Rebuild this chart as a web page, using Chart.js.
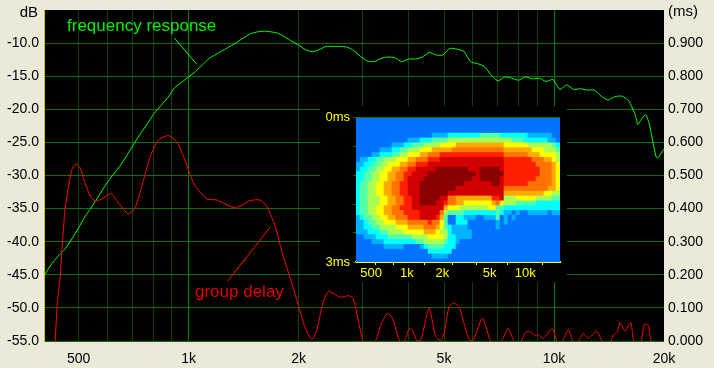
<!DOCTYPE html>
<html>
<head>
<meta charset="utf-8">
<title>frequency response / group delay</title>
<script src="https://cdn.jsdelivr.net/npm/chart.js@4"></script>
<style>
  html, body { margin: 0; padding: 0; background: #ECE9D8; }
  #wrap { position: relative; width: 714px; height: 368px; overflow: hidden; }
  #mainChart { position: absolute; left: 0; top: 0; }
  #heatChart { position: absolute; left: 320px; top: 106px; }
</style>
</head>
<body>
<div id="wrap">
  <canvas id="mainChart" width="714" height="368"></canvas>
  <canvas id="heatChart" width="247" height="176"></canvas>
</div>
<script>
// frequency response, Hz and dB
const responseFreqs = [403,420,439,459,479,
  500,522,545,569,595,621,648,677,707,738,771,805,841,878,917,958,
  1000,1044,1091,1139,1189,1242,1297,1354,1414,1477,1542,1611,1682,1756,1834,1915,
  2000,2089,2181,2278,2378,2484,2594,2709,2828,2954,3084,3221,3364,3513,3668,3830,
  4000,4177,4362,4555,4757,4967,5187,5417,5657,5907,6169,6442,6727,7025,7336,7661,
  8000,8354,8724,9110,9514,9935,10375,10834,11314,11815,12338,12884,13454,14050,14672,15322,
  16000,16708,16960,17448,17829,18221,19027,19277,19870,20000];
const responseDb = [-45.1,-43.5,-42.2,-41.1,-39.6,
  -37.9,-36.1,-34.6,-33.0,-31.3,-29.9,-28.6,-27.0,-25.3,-23.7,-22.2,-20.6,-19.4,-18.2,-16.7,-15.9,
  -15.1,-14.3,-13.3,-12.3,-11.7,-11.1,-10.5,-9.9,-9.2,-8.6,-8.3,-8.2,-8.3,-8.5,-9.1,-9.7,
  -10.3,-11.0,-11.3,-11.0,-10.5,-10.5,-10.5,-10.6,-11.1,-12.0,-12.7,-12.8,-12.3,-12.1,-12.2,-12.8,
  -12.4,-12.4,-12.1,-11.4,-11.8,-11.8,-10.8,-10.9,-11.2,-12.8,-13.1,-13.5,-14.8,-15.7,-15.1,-15.3,
  -15.6,-15.1,-15.4,-15.3,-15.8,-15.5,-17.0,-16.3,-17.0,-16.9,-17.1,-17.1,-18.0,-18.6,-18.1,-18.0,
  -18.7,-20.9,-22.3,-21.3,-20.8,-22.2,-27.2,-27.3,-26.2,-26.0];

// group delay, Hz and ms (below zero the curve runs off the plot)
const delayFreqs = [431,437,445,450,459,471,479,492,505,521,538,555,579,613,636,684,714,745,785,827,880,928,969,
  1031,1075,1122,1195,1341,1473,1569,1637,1724,1818,1896,1997,2084,2173,2243,2315,2413,2598,2738,2824,2946,3008,
  3138,3274,3342,3499,3612,3769,3852,3932,4014,4098,4210,4318,4553,4744,4901,5002,5163,5305,5499,5736,5881,6017,
  6370,6685,6940,7225,7491,7743,7922,8141,8367,8638,8914,9046,9349,9901,10115,10360,10608,10950,11226,11497,
  11735,12034,12421,13098,13483,13880,14362,14540,14910,15140,15650,16220,16490,16880,17340,17650,18130,18410,18920,20000];
const delayMs = [-0.01,0.112,0.193,0.273,0.399,0.477,0.517,0.535,0.523,0.477,0.438,0.423,0.429,0.446,0.424,0.384,0.404,0.469,0.557,0.607,0.621,0.602,0.557,
  0.477,0.450,0.429,0.426,0.402,0.424,0.426,0.406,0.348,0.253,0.192,0.107,0.041,0.004,0.031,0.102,0.150,0.132,0.137,0.127,0.036,-0.002,
  -0.02,0.008,0.043,0.084,0.069,0.003,-0.01,0.008,0.038,0.033,0.001,0.003,0.099,0.013,0.001,0.023,0.104,0.115,0.104,0.033,0.001,0.003,
  0.069,0.003,-0.02,0.005,0.038,0.003,-0.01,0.001,0.027,0.027,0.015,0.020,0.008,0.038,0.008,-0.015,0.003,0.035,0.003,-0.01,
  0.003,0.023,0.008,0.030,0.003,-0.015,0.003,0.018,0.028,0.056,0.030,0.056,0.003,-0.015,0.003,0.050,0.048,0.003,-0.02,-0.02];

// leader lines from the two captions
const responseLeaderFreqs = [913,1053];
const responseLeaderDb = [-9.2,-13.2];
const delayLeaderFreqs = [1277,1678];
const delayLeaderDb = [-46.0,-37.7];

// axes
const gridFreqs = [500,600,700,800,900,1000,2000,3000,4000,5000,6000,7000,8000,9000,10000,20000];
const freqLabels = {500:'500',1000:'1k',2000:'2k',5000:'5k',10000:'10k',20000:'20k'};
const heatFreqs = [400,500,600,1000,2000,3000,5000,10000];
const heatLabels = {500:'500',1000:'1k',2000:'2k',5000:'5k',10000:'10k'};

// colours of the inset, weakest to strongest
const heatColors = ['#0073ff','#00b4ff','#00ffff','#55ffaa','#aaff55','#ffff00','#ffaa00','#ff7300','#ff2000','#d20000','#8b0000'];

// inset levels, one line per 0.1 ms: level, run length, level, run length...
const heatRuns = [
  [0,51],
  [0,51],
  [0,51],
  [0,19,1,4,2,8,3,5,2,7,1,6,0,2],
  [0,13,1,3,2,3,3,4,4,16,3,3,2,6,1,2,0,1],
  [0,9,1,3,2,2,3,3,4,4,5,4,6,12,5,6,4,6,3,1,2,1],
  [0,6,1,3,2,2,3,2,4,3,5,3,6,5,7,13,6,7,5,3,4,3,3,1],
  [0,4,1,2,2,3,3,2,4,2,5,3,6,2,7,3,8,16,7,6,6,3,5,4,4,1],
  [0,1,1,2,2,2,3,2,4,3,5,3,6,2,7,3,8,3,9,16,8,7,7,3,6,2,5,1,4,1],
  [1,2,2,2,3,2,4,2,5,3,6,2,7,2,8,3,9,19,8,8,7,4,6,1,5,1],
  [1,1,2,2,3,2,4,2,5,2,6,2,7,2,8,2,9,5,10,8,9,3,10,5,9,1,8,9,7,3,6,1,5,1],
  [2,2,3,2,4,2,5,2,6,2,7,2,8,2,9,4,10,12,9,1,10,6,8,9,7,3,6,1,5,1],
  [2,2,3,2,4,2,5,2,6,2,7,2,8,1,9,4,10,12,9,2,10,5,9,1,8,8,7,4,6,1,5,1],
  [2,1,3,2,4,2,5,2,6,2,7,2,8,2,9,3,10,11,9,7,10,2,9,1,8,6,7,6,6,1,5,1],
  [2,1,3,2,4,2,5,2,6,2,7,2,8,2,9,3,10,9,9,12,7,11,6,2,5,1],
  [2,1,3,2,4,2,5,2,6,2,7,2,8,2,9,3,10,7,9,14,6,10,5,2,4,2],
  [2,1,3,2,4,3,5,2,6,2,7,2,8,2,9,2,10,5,9,2,7,2,6,9,8,2,9,1,4,3,5,5,4,4,3,2],
  [2,1,3,2,4,3,5,2,6,2,7,2,8,2,9,2,10,4,9,2,8,1,7,2,6,2,5,7,6,1,7,1,5,1,4,3,3,5,2,6],
  [2,1,3,2,4,2,5,2,6,2,7,2,8,3,9,8,6,1,5,3,4,7,5,2,3,2,2,14],
  [2,1,3,2,4,2,5,2,6,2,7,3,8,4,9,5,7,1,4,1,3,4,2,8,3,1,2,1,1,2,0,1,1,1,0,2,1,5,0,1,1,2],
  [1,1,2,1,3,2,4,2,5,2,6,2,7,3,8,3,9,4,8,1,6,1,3,1,0,2,2,2,1,3,0,2,1,3,3,1,0,1,1,1,0,1,1,1,0,11],
  [1,2,2,1,3,2,4,2,5,3,6,3,7,5,8,1,7,2,5,1,3,1,0,2,2,3,0,7,1,1,0,1,1,1,0,13],
  [1,2,2,2,3,2,4,4,5,3,6,4,7,3,6,1,5,1,3,1,2,1,1,4,0,7,1,1,0,15],
  [1,3,2,3,3,2,4,4,5,5,6,3,5,1,4,2,2,1,1,5,0,22],
  [0,2,1,3,2,3,3,6,4,4,5,4,4,1,2,2,1,4,0,22],
  [0,4,1,3,2,8,3,2,4,5,3,1,2,2,1,1,0,25],
  [0,7,1,5,0,4,1,1,2,1,3,4,2,3,0,26],
  [0,18,2,6,0,27],
  [0,19,1,4,0,28],
  [0,51]
];

const heatRows = heatRuns.map(runs => {
  const row = [];
  for (let i = 0; i < runs.length; i += 2) {
    for (let n = 0; n < runs[i + 1]; n++) row.push(runs[i]);
  }
  return row;
});
const heatColumns = heatRows[0].map((_, i) => i);

// fixes the space an axis takes, so the plot lands where it should
function fixSize(scale, size) {
  if (scale.isHorizontal()) scale.height = size; else scale.width = size;
  scale.paddingTop = 0;
  scale.paddingBottom = 0;
  scale.paddingLeft = 0;
  scale.paddingRight = 0;
}

function pairs(xs, ys) {
  return xs.map((x, i) => ({ x: x, y: ys[i] }));
}

const mainFont = { family: '"Liberation Sans", Arial, sans-serif', size: 14 };

const blackPlot = {
  id: 'blackPlot',
  beforeDraw(chart) {
    const a = chart.chartArea;
    chart.ctx.fillStyle = '#000';
    chart.ctx.fillRect(a.left, a.top, a.right - a.left, a.bottom - a.top);
  }
};

const captions = {
  id: 'captions',
  afterDraw(chart) {
    const ctx = chart.ctx;
    ctx.save();
    ctx.textBaseline = 'middle';
    ctx.font = '15px "Liberation Sans", Arial, sans-serif';
    ctx.fillStyle = '#000';
    ctx.textAlign = 'right';
    ctx.fillText('dB', 38, 13);
    ctx.textAlign = 'left';
    ctx.fillText('(ms)', 668, 12);
    ctx.font = '17px "Liberation Sans", Arial, sans-serif';
    ctx.fillStyle = '#00f000';
    ctx.fillText('frequency response', 67, 26);
    ctx.fillStyle = '#e00000';
    ctx.fillText('group delay', 195, 292);
    ctx.restore();
  }
};

new Chart(document.getElementById('mainChart'), {
  type: 'line',
  data: {
    datasets: [
      { label: 'group delay', data: pairs(delayFreqs, delayMs), yAxisID: 'y2', borderColor: '#ff0000', borderWidth: 1, pointRadius: 0, tension: 0.2 },
      { label: 'frequency response', data: pairs(responseFreqs, responseDb), yAxisID: 'y', borderColor: '#00ff00', borderWidth: 1, pointRadius: 0, tension: 0.2 },
      { data: pairs(responseLeaderFreqs, responseLeaderDb), yAxisID: 'y', borderColor: '#00ff00', borderWidth: 1, pointRadius: 0 },
      { data: pairs(delayLeaderFreqs, delayLeaderDb), yAxisID: 'y', borderColor: '#ff0000', borderWidth: 1, pointRadius: 0 }
    ]
  },
  options: {
    responsive: false,
    animation: false,
    layout: { padding: { top: 10, left: 0, right: 0, bottom: 0 } },
    plugins: { legend: { display: false }, tooltip: { enabled: false } },
    scales: {
      x: {
        type: 'logarithmic',
        bounds: 'data',
        min: 402,
        max: 20000,
        afterBuildTicks(scale) { scale.ticks = gridFreqs.map(v => ({ value: v })); },
        afterFit(scale) { fixSize(scale, 27); },
        border: { display: false },
        grid: {
          drawTicks: false,
          color(ctx) {
            const v = ctx.tick.value;
            if (v === 20000) return 'transparent';
            return (v === 1000 || v === 10000) ? '#0a7a0a' : '#0a420a';
          }
        },
        ticks: {
          autoSkip: false,
          maxRotation: 0,
          padding: 10,
          color: '#000',
          font: mainFont,
          callback(v) { return freqLabels[v] || ''; }
        }
      },
      y: {
        position: 'left',
        min: -55,
        max: -5,
        afterFit(scale) { fixSize(scale, 44); },
        border: { display: true, color: '#c8c800', width: 1 },
        grid: {
          drawTicks: false,
          color(ctx) { return ctx.tick.value === -5 ? 'transparent' : '#0a6e0a'; }
        },
        ticks: {
          stepSize: 5,
          padding: 5,
          color: '#000',
          font: mainFont,
          callback(v) { return v === -5 ? '' : v.toFixed(1); }
        }
      },
      y2: {
        position: 'right',
        min: 0,
        max: 1,
        afterFit(scale) { fixSize(scale, 50); },
        border: { display: false },
        grid: { display: false, drawTicks: false },
        ticks: {
          stepSize: 0.1,
          padding: 4,
          color: '#000',
          font: mainFont,
          callback(v) { return v >= 0.999 ? '' : v.toFixed(3); }
        }
      }
    }
  },
  plugins: [blackPlot, captions]
});

// inset: one dataset per row of cells, each row runs a little under the next to hide seams
const heatFont = { family: '"Liberation Sans", Arial, sans-serif', size: 13 };
const heatData = heatRows.map((row, r) => ({
  data: row.map(() => [r * 0.1, (r + 1.2) * 0.1 > 3 ? 3 : (r + 1.2) * 0.1]),
  backgroundColor: row.map(level => heatColors[level]),
  borderWidth: 0,
  barPercentage: 1,
  categoryPercentage: 1,
  grouped: false,
  xAxisID: 'x',
  yAxisID: 'y'
}));

const blackBack = {
  id: 'blackBack',
  beforeDraw(chart) {
    chart.ctx.fillStyle = '#000';
    chart.ctx.fillRect(0, 0, chart.width, chart.height);
  }
};

new Chart(document.getElementById('heatChart'), {
  type: 'bar',
  data: { labels: heatColumns, datasets: heatData },
  options: {
    responsive: false,
    animation: false,
    layout: { padding: { top: 11, left: 0, right: 7, bottom: 0 } },
    plugins: { legend: { display: false }, tooltip: { enabled: false } },
    scales: {
      x: { type: 'category', display: false, offset: true },
      xf: {
        type: 'logarithmic',
        axis: 'x',
        position: 'bottom',
        bounds: 'data',
        min: 372,
        max: 19700,
        afterBuildTicks(scale) { scale.ticks = heatFreqs.map(v => ({ value: v })); },
        afterFit(scale) { fixSize(scale, 20); },
        border: { display: true, color: '#ffff00', width: 2 },
        grid: {
          drawOnChartArea: false,
          tickLength: 3,
          tickColor(ctx) { return ctx.tick && ctx.tick.value === 500 ? 'transparent' : '#ffff00'; }
        },
        ticks: {
          autoSkip: false,
          maxRotation: 0,
          padding: 1,
          color: '#ffff00',
          font: heatFont,
          callback(v) { return heatLabels[v] || ''; }
        }
      },
      y: {
        reverse: true,
        min: 0,
        max: 3,
        afterFit(scale) { fixSize(scale, 36); },
        border: { display: false },
        grid: {
          z: 1,
          tickLength: 3,
          tickColor: '#0a6e0a',
          color(ctx) { return ctx.tick && ctx.tick.value === 0 ? '#0a6e0a' : 'transparent'; }
        },
        ticks: {
          stepSize: 0.6,
          padding: 3,
          color: '#ffff00',
          font: heatFont,
          callback(v) {
            if (v === 0) return '0ms';
            return v > 2.9 ? '3ms' : '';
          }
        }
      }
    }
  },
  plugins: [blackBack]
});
</script>
</body>
</html>
